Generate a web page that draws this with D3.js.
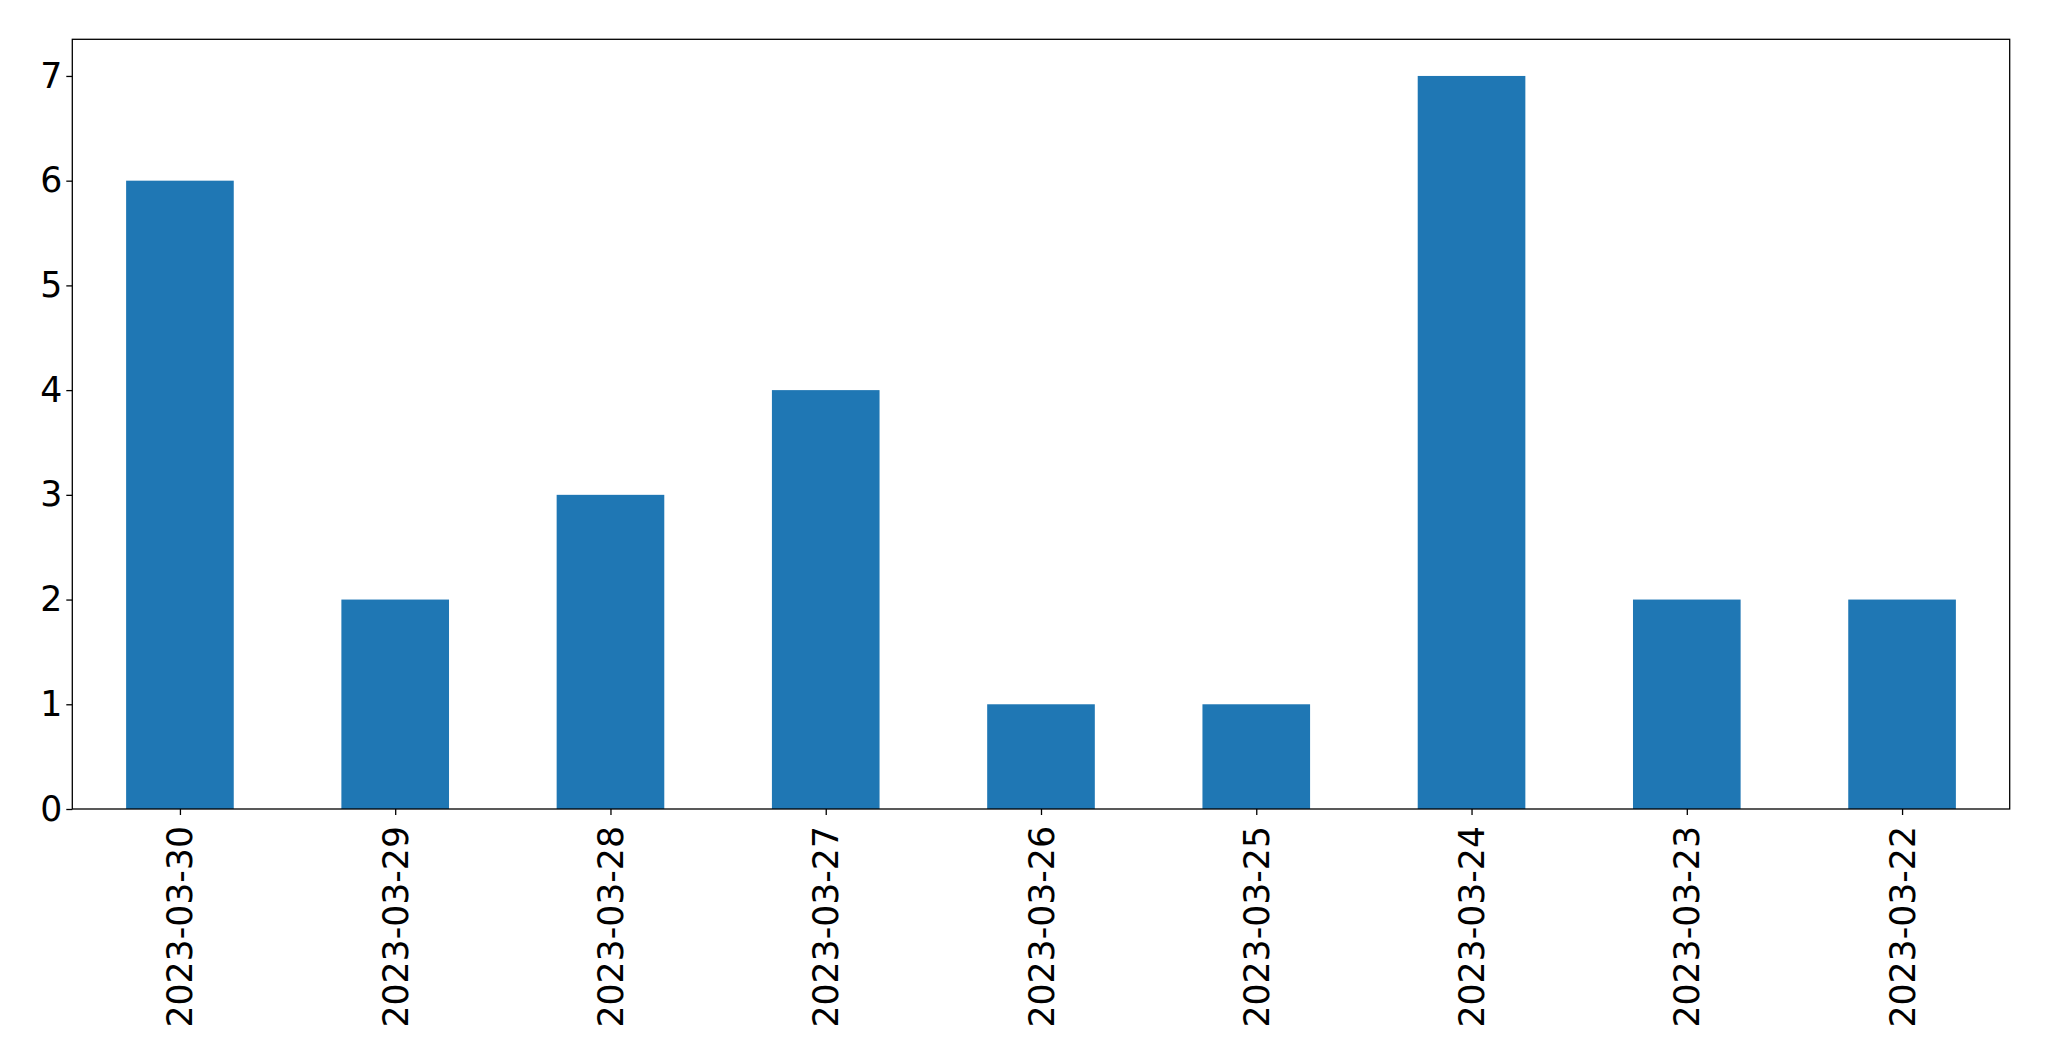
<!DOCTYPE html>
<html>
<head>
<meta charset="utf-8">
<script src="https://cdn.jsdelivr.net/npm/d3@7"></script>
<style>
html,body{margin:0;padding:0;background:#fff;}
svg{display:block;}
</style>
</head>
<body>
<svg id="chart" width="2049" height="1061"></svg>
<script>
const categories = ["2023-03-30","2023-03-29","2023-03-28","2023-03-27","2023-03-26","2023-03-25","2023-03-24","2023-03-23","2023-03-22"];
const values = [6,2,3,4,1,1,7,2,2];
const yTicks = [0,1,2,3,4,5,6,7];

(function(){
const mLeft = 72.3, mRight = 2009.7, mTop = 39.3, mBottom = 809;
const svg = d3.select("#chart");

const x = d3.scaleLinear().domain([-0.5, categories.length - 0.5]).range([mLeft, mRight]);
const y = d3.scaleLinear().domain([0, 7.35]).range([mBottom, mTop]);
const barW = x(0.5) - x(0);

svg.append("g").selectAll("rect").data(values).join("rect")
  .attr("x", (d,i) => x(i) - barW/2)
  .attr("width", barW)
  .attr("y", d => y(d))
  .attr("height", d => y(0) - y(d))
  .attr("fill", "#1f77b4");

const font = "DejaVu Sans, sans-serif";
const fs = 34.7;

const yAxis = d3.axisLeft(y).tickValues(yTicks).tickSize(6).tickPadding(4).tickFormat(d3.format("d"));
const gy = svg.append("g").attr("transform", `translate(${mLeft},0)`).call(yAxis);
gy.select(".domain").remove();
gy.selectAll("line").attr("stroke", "#000").attr("stroke-width", 1.3);
gy.selectAll("text").attr("font-family", font).attr("font-size", fs).attr("fill", "#000");

const xAxis = d3.axisBottom(x).tickValues(d3.range(categories.length)).tickSize(6).tickFormat(i => categories[i]);
const gx = svg.append("g").attr("transform", `translate(0,${mBottom})`).call(xAxis);
gx.select(".domain").remove();
gx.selectAll("line").attr("stroke", "#000").attr("stroke-width", 1.3);
gx.selectAll("text")
  .attr("font-family", font).attr("font-size", fs).attr("fill", "#000")
  .attr("text-anchor", "end")
  .attr("dy", null)
  .attr("dominant-baseline", "central")
  .attr("transform", "translate(0,17) rotate(-90)")
  .attr("x", 0).attr("y", 0);

svg.append("rect")
  .attr("x", mLeft).attr("y", mTop)
  .attr("width", mRight - mLeft).attr("height", mBottom - mTop)
  .attr("fill", "none").attr("stroke", "#000").attr("stroke-width", 1.3);
})();
</script>
</body>
</html>
